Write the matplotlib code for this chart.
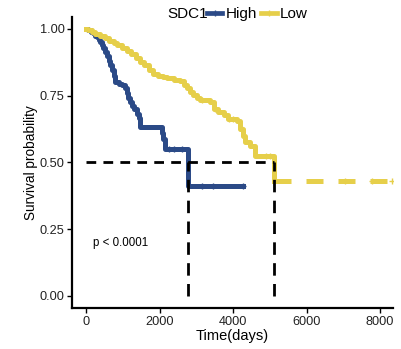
import matplotlib
matplotlib.use("Agg")
import matplotlib.pyplot as plt
from matplotlib.lines import Line2D
import numpy as np

plt.rcParams['font.family'] = ['Liberation Sans', 'DejaVu Sans']

# ---- data ----
high_t = [0, 50, 120, 180, 250, 300, 350, 390, 430, 470, 525, 560, 610, 650, 705, 750, 795,
          900, 980, 1070, 1110, 1150, 1200, 1250, 1290, 1385, 1430, 1475, 2060, 2100, 2155, 2780]
high_s = [1.0, 0.995, 0.99, 0.985, 0.975, 0.968, 0.96, 0.952, 0.94, 0.93, 0.915, 0.90, 0.88, 0.866, 0.845, 0.825, 0.80,
          0.795, 0.79, 0.777, 0.76, 0.74, 0.725, 0.71, 0.70, 0.68, 0.665, 0.634, 0.61, 0.589, 0.551, 0.412]
high_end = 4280
high_cens = [2250, 2400, 2600, 3150, 3465, 4280]

low_t = [0, 60, 150, 250, 390, 500, 620, 745, 850, 980, 1115, 1230, 1350, 1475, 1580, 1700, 1830,
         1950, 2080, 2200, 2380, 2560, 2650, 2745, 2830, 2920, 3010, 3105, 3380, 3470, 3600, 3740,
         3870, 4100, 4190, 4280, 4330, 4465, 4600, 5120]
low_s = [1.0, 0.995, 0.99, 0.982, 0.972, 0.965, 0.956, 0.947, 0.94, 0.928, 0.916, 0.905, 0.892, 0.878, 0.865, 0.848, 0.83,
         0.825, 0.82, 0.815, 0.81, 0.804, 0.79, 0.777, 0.765, 0.752, 0.742, 0.733, 0.728, 0.70, 0.69, 0.677,
         0.664, 0.655, 0.626, 0.60, 0.577, 0.563, 0.526, 0.43]
low_end = 8320
low_cens = [3150, 3500, 3880, 4010, 4240, 4900, 5010, 7050, 7770, 8320]

medians = [2780, 5110]
group_labels = ["High", "Low"]
legend_title = "SDC1"
p_text = "p < 0.0001"
xticks = [0, 2000, 4000, 6000, 8000]
yticks = [0.0, 0.25, 0.5, 0.75, 1.0]
ytick_labels = ["0.00", "0.25", "0.50", "0.75", "1.00"]

c_high = "#2B4A87"
c_low = "#E6CF4A"

fig = plt.figure(figsize=(4.01, 3.49), dpi=100)
ax = fig.add_axes([0.18, 0.1175, 0.80, 0.834])

def surv_at(ts, ss, t):
    idx = np.searchsorted(ts, t, side='right') - 1
    return ss[idx]

# High curve
ht = list(high_t) + [high_end]
hs = list(high_s) + [high_s[-1]]
ax.step(ht, hs, where='post', color=c_high, lw=3.6)
ax.plot(high_cens, [surv_at(high_t, high_s, t) for t in high_cens], '+', color=c_high, ms=5, mew=1.0)

# Low curve (solid to last event, tail dashed as in reference)
ax.step(low_t, low_s, where='post', color=c_low, lw=3.6)
ax.plot([low_t[-1], low_end], [low_s[-1], low_s[-1]], color=c_low, lw=3.6, dashes=(3.4, 3.0))
ax.plot(low_cens, [surv_at(low_t, low_s, t) for t in low_cens], '+', color=c_low, ms=5, mew=1.0)

# median lines
ax.plot([0, max(medians)], [0.5, 0.5], color='black', lw=2.0, dashes=(3.5, 2.6))
for m in medians:
    ax.plot([m, m], [0, 0.5], color='black', lw=2.0, dashes=(4.5, 3.0))

ax.text(180, 0.2, p_text, fontsize=8.3, ha='left', va='center')

ax.set_xlim(-380, 8350)
ax.set_ylim(-0.045, 1.045)
ax.set_xticks(xticks)
ax.set_yticks(yticks)
ax.set_yticklabels(ytick_labels)
ax.tick_params(labelsize=9.2, width=1.0, length=3.5, color='black', labelcolor='#222222', pad=2)
for s in ['top', 'right']:
    ax.spines[s].set_visible(False)
for s in ['left', 'bottom']:
    ax.spines[s].set_linewidth(1.6)
ax.set_xlabel("Time(days)", fontsize=10.5, labelpad=1)
ax.set_ylabel("Survival probability", fontsize=9.8, labelpad=1)

# legend
fig.text(167/401, 1 - 14/349, legend_title, fontsize=11, ha='left', va='center')
handles = [Line2D([0], [0], color=c_high, lw=3.4, marker='+', ms=4, mew=1.0),
           Line2D([0], [0], color=c_low, lw=3.4, marker='+', ms=4, mew=1.0)]
fig.legend(handles, group_labels, loc='center left', bbox_to_anchor=(207/401, 1 - 14/349),
           ncol=2, frameon=False, fontsize=11, handlelength=1.0, handletextpad=0.2,
           columnspacing=0.3, borderpad=0, borderaxespad=0)

fig.savefig("out.png", dpi=100)
